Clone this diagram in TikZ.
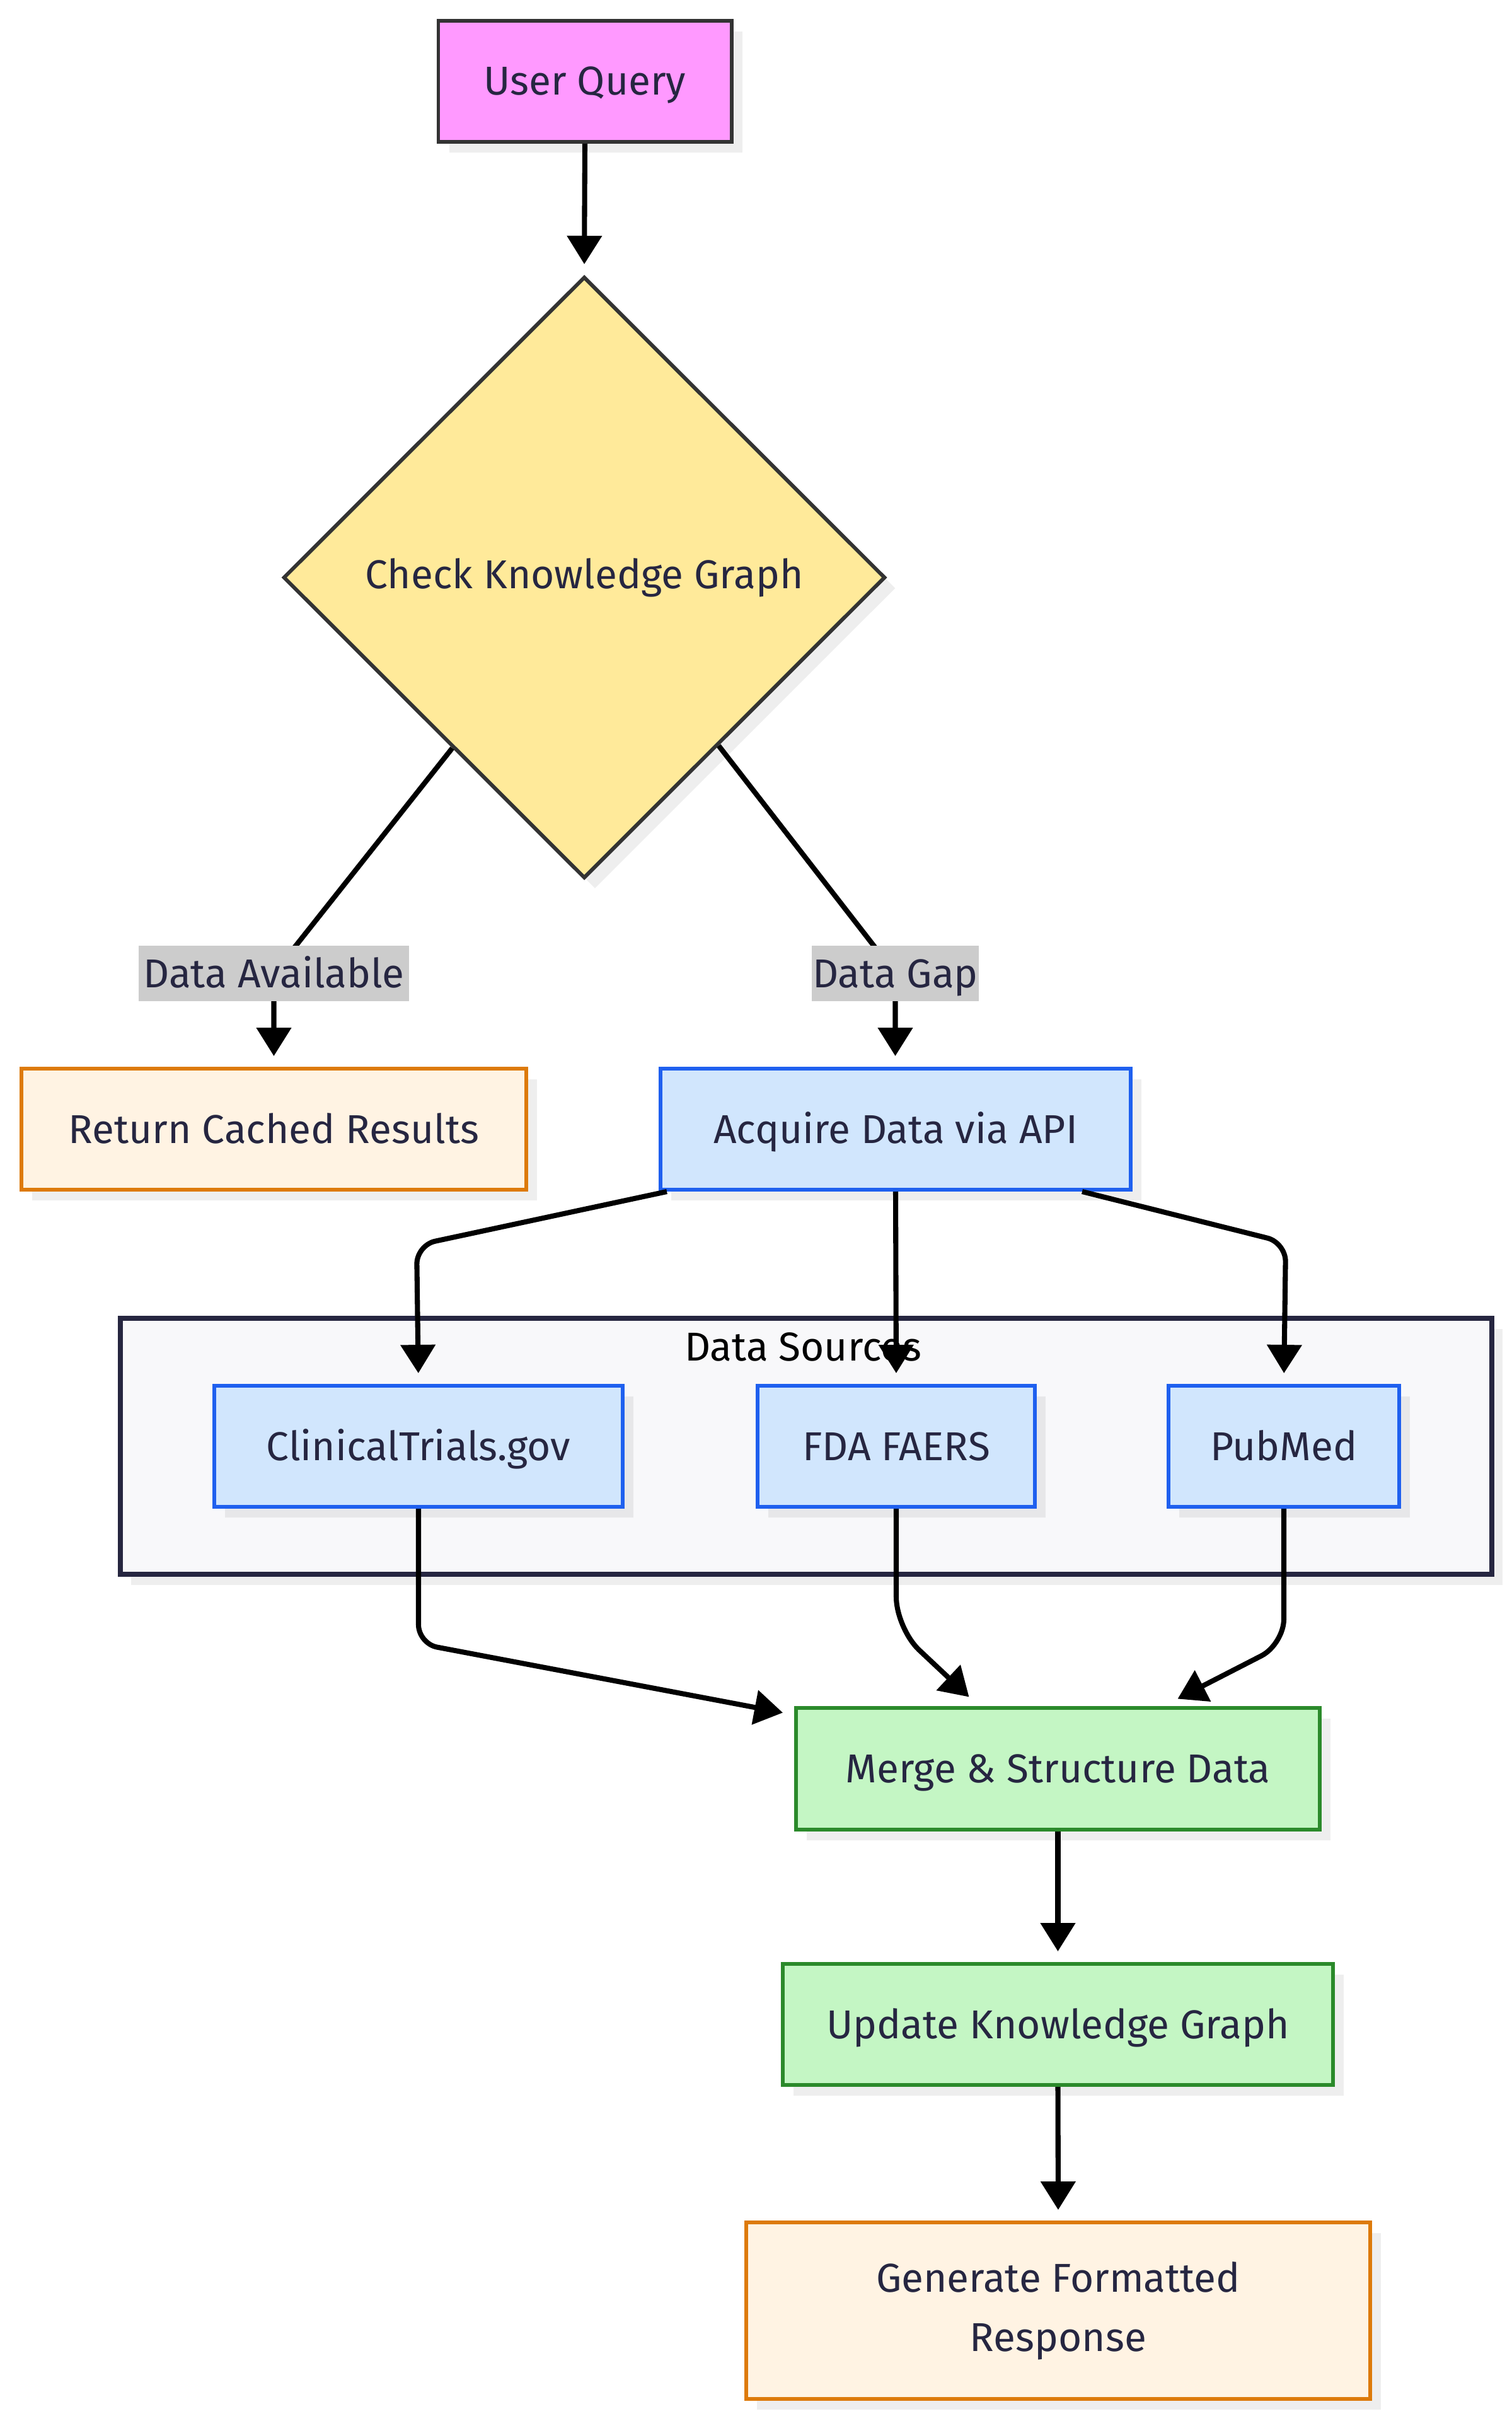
\documentclass[tikz,border=0pt]{standalone}
\usepackage{fontspec}
\setmainfont{Fira Sans}
\usetikzlibrary{shapes.geometric,arrows.meta,calc,shadows}
\definecolor{ink}{HTML}{262641}
\definecolor{queryFill}{HTML}{FF99FF}
\definecolor{checkFill}{HTML}{FFEA9A}
\definecolor{darkLine}{HTML}{333333}
\definecolor{orangeFill}{HTML}{FFF3E3}
\definecolor{orangeLine}{HTML}{DD7A0A}
\definecolor{blueFill}{HTML}{D1E6FD}
\definecolor{blueLine}{HTML}{1F60EF}
\definecolor{greenFill}{HTML}{C4F6C4}
\definecolor{greenLine}{HTML}{2B8A2B}
\definecolor{clusterFill}{HTML}{F8F8FA}
\definecolor{clusterLine}{HTML}{262640}
\definecolor{labelGray}{HTML}{CCCCCC}

\begin{document}
\begin{tikzpicture}[>={Triangle[length=4.5mm,width=5.4mm]},
  font=\fontsize{18.2}{26.7}\selectfont,
  boxshadow/.style={drop shadow={shadow xshift=0.17cm,shadow yshift=-0.17cm,fill=black,opacity=0.065}},
  box/.style={draw, line width=1.7pt, minimum height=1.92cm, inner sep=0pt,
    text=ink, text height=0.44cm, text depth=0pt, boxshadow},
  query/.style={box, fill=queryFill, draw=darkLine},
  decision/.style={diamond, aspect=1, draw=darkLine, fill=checkFill, line width=1.7pt,
    minimum width=9.55cm, minimum height=9.54cm, inner sep=0pt, text=ink, boxshadow},
  result/.style={box, fill=orangeFill, draw=orangeLine},
  source/.style={box, fill=blueFill, draw=blueLine},
  process/.style={box, fill=greenFill, draw=greenLine},
  cluster/.style={draw=clusterLine, fill=clusterFill, line width=2.3pt, inner sep=0pt, boxshadow},
  lbl/.style={fill=labelGray, text=ink, inner sep=0pt, minimum height=0.88cm,
    text height=0.44cm, text depth=0pt},
  flow/.style={draw=black, line width=2.3pt, ->, shorten >=0.17cm}]
\useasboundingbox (0,0) rectangle (23.98,-38.40);

% Top
% Query and knowledge graph check
  \node[query, minimum width=4.65cm] (query) at (9.28,-1.29) {User Query};
  \node[decision] (check) at (9.27,-9.16) {Check Knowledge Graph};

% Middle
% Cached path and acquisition
  \node[result, minimum width=8.01cm] (cached) at (4.345,-17.91) {Return Cached Results};
  \node[source, minimum width=7.46cm] (acquire) at (14.21,-17.91) {Acquire Data via API};

% Data sources group
  \node[cluster, minimum width=21.76cm, minimum height=4.06cm] (sources) at (12.79,-22.94) {};
  \node[text=black] (sourcesTitle) at (12.74,-21.36) {Data Sources};
  \node[source, minimum width=6.48cm] (trials) at (6.64,-22.94) {ClinicalTrials.gov};
  \node[source, minimum width=4.40cm] (faers) at (14.22,-22.94) {FDA FAERS};
  \node[source, minimum width=3.66cm] (pubmed) at (20.37,-22.94) {PubMed};

% Bottom
% Merge, update and response
  \node[process, minimum width=8.31cm, minimum height=1.93cm] (merge) at (16.785,-28.05) {Merge \& Structure Data};
  \node[process, minimum width=8.73cm] (update) at (16.785,-32.11) {Update Knowledge Graph};
  \node[result, minimum width=9.90cm, minimum height=2.80cm, align=center,
    text height=, text depth=] (respond) at (16.79,-36.65) {Generate Formatted\\Response};

% Connectors
  \draw[flow] (query.south) -- (check.north);
  \draw[flow] ($(check.west)!0.564!(check.south)$) -- (4.345,-15.44)
    node[lbl, minimum width=4.29cm] (availLbl) {Data Available} -- (cached.north);
  \draw[flow] ($(check.east)!0.556!(check.south)$) -- (14.205,-15.44)
    node[lbl, minimum width=2.65cm] (gapLbl) {Data Gap} -- (acquire.north -| 14.205,0);

  \draw[flow, rounded corners=0.3cm] ([xshift=0.13cm]acquire.south west) -- ++(-3.97,-0.85) -- (trials.north);
  \draw[flow] (acquire.south) -- (faers.north);
  \draw[flow, rounded corners=0.3cm] ([xshift=-0.8cm]acquire.south east) -- ++(3.23,-0.81) -- (pubmed.north);

  \draw[flow, shorten >=0pt, rounded corners=0.3cm] (trials.south) -- ++(0,-2.14)
    -- ([xshift=-0.18cm,yshift=-0.11cm]merge.north west);
  \draw[flow, shorten >=0pt, rounded corners=0.5cm] (faers.south) -- ++(0,-1.9)
    -- ([xshift=-1.41cm,yshift=0.14cm]merge.north);
  \draw[flow, shorten >=0pt, rounded corners=0.4cm] (pubmed.south) -- ++(0,-2.15)
    -- ([xshift=1.9cm,yshift=0.11cm]merge.north);

  \draw[flow] (merge.south) -- (update.north);
  \draw[flow] (update.south) -- (respond.north);
\end{tikzpicture}
\end{document}
